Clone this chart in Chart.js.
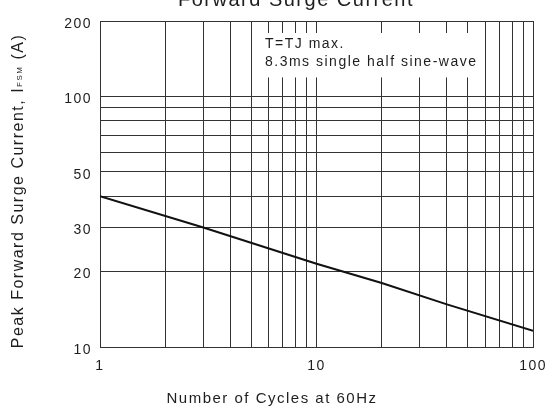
<!DOCTYPE html>
<html lang="en">
<head>
<meta charset="UTF-8" />
<title>Forward Surge Current</title>
<script src="https://cdn.jsdelivr.net/npm/chart.js@4.4.1/dist/chart.umd.min.js"></script>
<style>
	html, body { margin: 0; padding: 0; background: #fff; }
	#chart { display: block; }
</style>
</head>
<body>
<canvas id="chart" width="558" height="412"></canvas>
<script>
	// curve
	const cycles = [1, 3, 10, 20, 40, 100]
	const surgeCurrent = [40, 30, 21.5, 18, 14.8, 11.6]

	// grid lines and which of them get a label
	const xGridValues = [1, 2, 3, 4, 5, 6, 7, 8, 9, 10, 20, 30, 40, 50, 60, 70, 80, 90, 100]
	const xLabelValues = [1, 10, 100]
	const yGridValues = [10, 20, 30, 40, 50, 60, 70, 80, 90, 100, 200]
	const yLabelValues = [10, 20, 30, 50, 100, 200]

	// texts
	const chartTitle = 'Forward Surge Current'
	const xTitle = 'Number of Cycles at 60Hz'
	const yTitleMain = 'Peak Forward Surge Current, I'
	const yTitleSub = 'FSM'
	const yTitleEnd = ' (A)'
	const noteLines = ['T=TJ max.', '8.3ms single half sine-wave']

	const FONT = '"Liberation Sans", Arial, Helvetica, sans-serif'
	const TEXT = '#1e1e1e'
	const GRID = '#333'
	const SPACING = '1.5px'

	// titles, note box and spaced lettering
	const sheetText = {
		id: 'sheetText',
		beforeUpdate(chart) {
			chart.ctx.letterSpacing = SPACING
		},
		beforeDraw(chart) {
			chart.ctx.letterSpacing = SPACING
		},
		beforeDatasetsDraw(chart) {
			const ctx = chart.ctx
			const xs = chart.scales.x
			const ys = chart.scales.y
			// white panel behind the test conditions
			const left = xs.getPixelForValue(5) + 4
			const right = xs.getPixelForValue(60) - 5
			const top = ys.getPixelForValue(200) + 12
			const bottom = ys.getPixelForValue(100) - 19
			ctx.save()
			ctx.fillStyle = '#fff'
			ctx.fillRect(left, top, right - left, bottom - top)
			ctx.restore()
		},
		afterDraw(chart) {
			const ctx = chart.ctx
			ctx.save()
			ctx.letterSpacing = SPACING
			ctx.fillStyle = TEXT
			ctx.textBaseline = 'alphabetic'

			// note
			ctx.textAlign = 'left'
			ctx.font = '14px ' + FONT
			ctx.fillText(noteLines[0], 265, 48)
			ctx.fillText(noteLines[1], 265, 66)

			// title, mostly cut off at the top
			ctx.textAlign = 'center'
			ctx.font = '20px ' + FONT
			ctx.fillText(chartTitle, 296, 6)

			// x title
			ctx.font = '15px ' + FONT
			ctx.fillText(xTitle, 272, 403)

			// y title with subscript
			ctx.translate(23, 191)
			ctx.rotate(-Math.PI / 2)
			ctx.textAlign = 'left'
			ctx.font = '16px ' + FONT
			const wMain = ctx.measureText(yTitleMain).width
			const wEnd = ctx.measureText(yTitleEnd).width
			ctx.font = '8px ' + FONT
			const wSub = ctx.measureText(yTitleSub).width
			let x = -(wMain + wSub + wEnd) / 2
			ctx.font = '16px ' + FONT
			ctx.fillText(yTitleMain, x, 0)
			x += wMain
			ctx.font = '8px ' + FONT
			ctx.fillText(yTitleSub, x, -1)
			x += wSub
			ctx.font = '16px ' + FONT
			ctx.fillText(yTitleEnd, x, 0)
			ctx.restore()
		},
	}

	const tickFont = { family: FONT, size: 14 }

	new Chart(document.getElementById('chart'), {
		type: 'line',
		data: {
			datasets: [
				{
					data: cycles.map((c, i) => ({ x: c, y: surgeCurrent[i] })),
					borderColor: '#111',
					borderWidth: 2,
					pointRadius: 0,
					tension: 0,
					fill: false,
				},
			],
		},
		options: {
			responsive: false,
			animation: false,
			events: [],
			layout: { padding: { left: 0, top: 21, right: 23, bottom: 0 } },
			plugins: {
				legend: { display: false },
				title: { display: false },
				tooltip: { enabled: false },
			},
			scales: {
				x: {
					type: 'logarithmic',
					min: 1,
					max: 100,
					afterBuildTicks: scale => {
						scale.ticks = xGridValues.map(v => ({ value: v }))
					},
					afterFit: scale => {
						scale.height = 65
					},
					ticks: {
						autoSkip: false,
						maxRotation: 0,
						padding: 11,
						color: TEXT,
						font: tickFont,
						callback: v => (xLabelValues.includes(v) ? String(v) : ''),
					},
					grid: { color: GRID, lineWidth: 1, drawTicks: false },
					border: { color: GRID, width: 1 },
				},
				y: {
					type: 'logarithmic',
					min: 10,
					max: 200,
					afterBuildTicks: scale => {
						scale.ticks = yGridValues.map(v => ({ value: v }))
					},
					afterFit: scale => {
						scale.width = 100
					},
					ticks: {
						autoSkip: false,
						padding: 8,
						labelOffset: 3,
						color: TEXT,
						font: tickFont,
						callback: v => (yLabelValues.includes(v) ? String(v) : ''),
					},
					grid: { color: GRID, lineWidth: 1, drawTicks: false },
					border: { color: GRID, width: 1 },
				},
			},
		},
		plugins: [sheetText],
	})
</script>
</body>
</html>
